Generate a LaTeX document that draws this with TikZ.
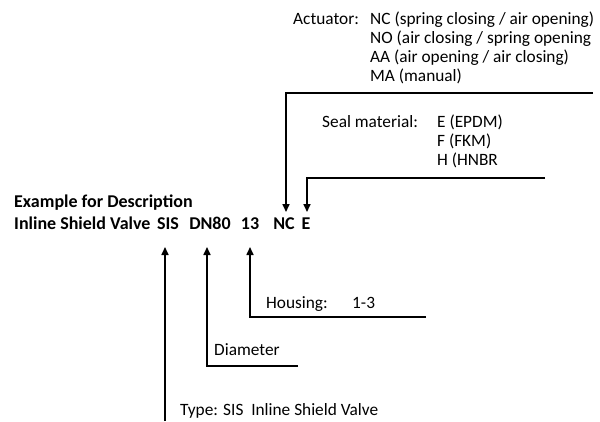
\documentclass[tikz,border=0pt]{standalone}
\usepackage{fontspec}
\setmainfont{Carlito}
\usetikzlibrary{arrows.meta,positioning}

\begin{document}
\begin{tikzpicture}[x=1pt,y=-1pt,
	lbl/.style={anchor=base west,inner sep=0pt,align=left,font=\fontsize{17.3}{19}\selectfont},
	code/.style={lbl,font=\fontsize{18}{19}\selectfont\bfseries},
	part/.style={code,anchor=base},
	leader/.style={line width=1.6pt},
	ptr/.style={leader,-{Triangle[length=8pt,width=7pt]}}]
	\useasboundingbox (0,0) rectangle (600,421);
	
	% title and example code
	\node[code] (title) at (14,207) {Example for Description};
	\node[code] (valve) at (14,229) {Inline Shield Valve};
	\node[part] (sis) at (168,229) {SIS};
	\node[part] (dn) at (210,229) {DN80};
	\node[part] (housing) at (250,229) {13};
	\node[part] (nc) at (284,229) {NC};
	\node[part] (e) at (306,229) {E};
	
	% actuator (base = last line)
	\node[lbl] (actlbl) at (293,24) {Actuator:};
	\node[lbl] (actval) at (370,81) {NC (spring closing / air opening)\\NO (air closing / spring opening\\AA (air opening / air closing)\\MA (manual)};
	\coordinate (actend) at (593,93);
	\coordinate (actcorner) at (286,93);
	\coordinate (acttip) at (286,212);
	\draw[ptr] (actend) -- (actcorner) -- (acttip);
	
	% seal material
	\node[lbl] (seallbl) at (322,127) {Seal material:};
	\node[lbl] (sealval) at (437,165) {E (EPDM)\\F (FKM)\\H (HNBR};
	\coordinate (sealend) at (545,178);
	\coordinate (sealcorner) at (307,178);
	\coordinate (sealtip) at (307,212);
	\draw[ptr] (sealend) -- (sealcorner) -- (sealtip);
	
	% housing
	\node[lbl] (houslbl) at (266,308) {Housing:};
	\node[lbl] (housval) at (352,308) {1-3};
	\coordinate (housend) at (426,317);
	\coordinate (houscorner) at (250,317);
	\coordinate (houstip) at (250,247);
	\draw[ptr] (housend) -- (houscorner) -- (houstip);
	
	% diameter
	\node[lbl] (diamlbl) at (214,355) {Diameter};
	\coordinate (diamend) at (298,366);
	\coordinate (diamcorner) at (207,366);
	\coordinate (diamtip) at (207,247);
	\draw[ptr] (diamend) -- (diamcorner) -- (diamtip);
	
	% type
	\node[lbl] (typelbl) at (180,415) {Type: SIS\ \ Inline Shield Valve};
	\coordinate (typestart) at (165,421);
	\coordinate (typetip) at (165,247);
	\draw[ptr] (typestart) -- (typetip);
\end{tikzpicture}
\end{document}
